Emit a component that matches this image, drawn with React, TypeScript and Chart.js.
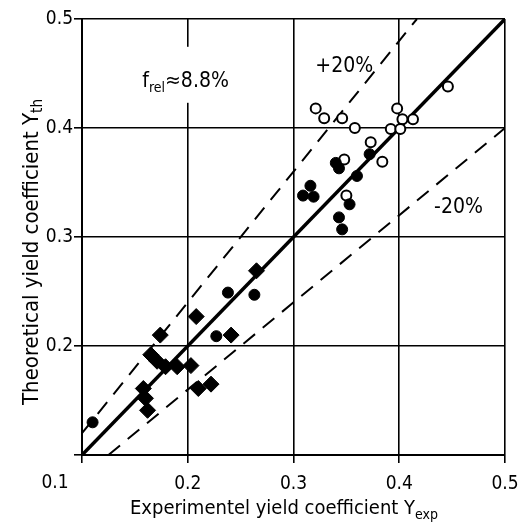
import React, { useEffect, useRef } from "react";
import { Chart, registerables } from "chart.js";

Chart.register(...registerables);

// Axis ticks
const axisTicks = [0.1, 0.2, 0.3, 0.4, 0.5];

// Filled diamonds
const diamondX = [0.265, 0.208, 0.174, 0.241, 0.165, 0.171, 0.179, 0.190, 0.203, 0.158, 0.160, 0.162, 0.210, 0.222];
const diamondY = [0.269, 0.227, 0.210, 0.210, 0.192, 0.186, 0.181, 0.181, 0.182, 0.161, 0.152, 0.141, 0.161, 0.165];

// Filled circles
const filledX = [0.110, 0.238, 0.263, 0.227, 0.372, 0.340, 0.343, 0.360, 0.316, 0.309, 0.319, 0.353, 0.343, 0.346];
const filledY = [0.130, 0.249, 0.247, 0.209, 0.376, 0.368, 0.363, 0.356, 0.347, 0.338, 0.337, 0.330, 0.318, 0.307];

// Open circles
const openX = [0.446, 0.321, 0.329, 0.346, 0.358, 0.373, 0.348, 0.384, 0.350, 0.398, 0.403, 0.413, 0.392, 0.401];
const openY = [0.438, 0.418, 0.409, 0.409, 0.400, 0.387, 0.371, 0.369, 0.338, 0.418, 0.408, 0.408, 0.399, 0.399];

// Reference lines (endpoints)
const idealX = [0.1, 0.5];
const idealY = [0.1, 0.5];
const plusX = [0.1, 0.4167];
const plusY = [0.12, 0.5];
const minusX = [0.125, 0.5];
const minusY = [0.1, 0.4];

const FONT = "'DejaVu Sans Condensed', 'Liberation Sans Narrow', 'DejaVu Sans', sans-serif";

const pts = (xs: number[], ys: number[]) => xs.map((x, i) => ({ x, y: ys[i] }));

const textPlugin = {
  id: "annotations",
  beforeDatasetsDraw(chart: any) {
    const { ctx, scales } = chart;
    const x = scales.x;
    const y = scales.y;
    // white box behind f_rel label (interrupts grid line)
    ctx.save();
    ctx.fillStyle = "#fff";
    const cx = x.getPixelForValue(0.2);
    ctx.fillRect(cx - 48, y.getPixelForValue(0.4745), 96, 56);
    ctx.restore();
  },
  afterDraw(chart: any) {
    const { ctx, scales, chartArea } = chart;
    const x = scales.x;
    const y = scales.y;
    ctx.save();
    ctx.fillStyle = "#000";
    ctx.textBaseline = "alphabetic";

    // f_rel label
    const big = `21px ${FONT}`;
    const small = `14px ${FONT}`;
    let px = x.getPixelForValue(0.157);
    const py = y.getPixelForValue(0.4375);
    ctx.font = big;
    ctx.textAlign = "left";
    ctx.fillText("f", px, py);
    px += ctx.measureText("f").width;
    ctx.font = small;
    ctx.fillText("rel", px, py + 5);
    px += ctx.measureText("rel").width;
    ctx.font = big;
    ctx.fillText("\u22488.8%", px, py);

    // +20% / -20%
    ctx.textAlign = "center";
    ctx.font = big;
    ctx.fillText("+20%", x.getPixelForValue(0.348), y.getPixelForValue(0.451));
    ctx.fillText("-20%", x.getPixelForValue(0.456), y.getPixelForValue(0.322));

    // 0.1 x tick label (shifted left of corner)
    ctx.font = `19px ${FONT}`;
    ctx.fillText("0.1", chartArea.left - 27, chartArea.bottom + 33);

    // X axis title
    const tMain = "Experimentel yield coefficient Y";
    const tSub = "exp";
    ctx.font = `20px ${FONT}`;
    const wMain = ctx.measureText(tMain).width;
    ctx.font = `14px ${FONT}`;
    const wSub = ctx.measureText(tSub).width;
    const xCenter = 284;
    let sx = xCenter - (wMain + wSub) / 2;
    ctx.textAlign = "left";
    ctx.font = `20px ${FONT}`;
    ctx.fillText(tMain, sx, 514);
    ctx.font = `14px ${FONT}`;
    ctx.fillText(tSub, sx + wMain, 519);

    // Y axis title (rotated)
    ctx.save();
    ctx.translate(38, 252);
    ctx.rotate(-Math.PI / 2);
    const yMain = "Theoretical yield coefficient Y";
    const ySub = "th";
    ctx.font = `22px ${FONT}`;
    const ywMain = ctx.measureText(yMain).width;
    ctx.font = `15px ${FONT}`;
    const ywSub = ctx.measureText(ySub).width;
    let ty = -(ywMain + ywSub) / 2;
    ctx.font = `22px ${FONT}`;
    ctx.fillText(yMain, ty, 0);
    ctx.font = `15px ${FONT}`;
    ctx.fillText(ySub, ty + ywMain, 4);
    ctx.restore();

    ctx.restore();
  },
};

export default function App() {
  const ref = useRef<HTMLCanvasElement | null>(null);
  useEffect(() => {
    if (!ref.current) return;
    const chart = new Chart(ref.current, {
      type: "scatter",
      data: {
        datasets: [
          {
            label: "diamonds",
            data: pts(diamondX, diamondY),
            pointStyle: "rectRot",
            pointRadius: 8,
            backgroundColor: "#000",
            borderColor: "#000",
            borderWidth: 1,
            order: 0,
          },
          {
            label: "filled",
            data: pts(filledX, filledY),
            pointStyle: "circle",
            pointRadius: 5.5,
            backgroundColor: "#000",
            borderColor: "#000",
            borderWidth: 1,
            order: 0,
          },
          {
            label: "open",
            data: pts(openX, openY),
            pointStyle: "circle",
            pointRadius: 5,
            backgroundColor: "#fff",
            borderColor: "#000",
            borderWidth: 2,
            order: 0,
          },
          {
            type: "line",
            label: "ideal",
            data: pts(idealX, idealY),
            borderColor: "#000",
            borderWidth: 3.5,
            pointRadius: 0,
            showLine: true,
            order: 1,
          },
          {
            type: "line",
            label: "+20%",
            data: pts(plusX, plusY),
            borderColor: "#000",
            borderWidth: 2,
            borderDash: [15, 10],
            pointRadius: 0,
            showLine: true,
            order: 1,
          },
          {
            type: "line",
            label: "-20%",
            data: pts(minusX, minusY),
            borderColor: "#000",
            borderWidth: 2,
            borderDash: [15, 10],
            pointRadius: 0,
            showLine: true,
            order: 1,
          },
        ] as any,
      },
      options: {
        animation: false,
        responsive: false,
        devicePixelRatio: 1,
        layout: { padding: { left: 0, right: 19, top: 19, bottom: 0 } },
        plugins: { legend: { display: false }, tooltip: { enabled: false } },
        scales: {
          x: {
            type: "linear",
            min: axisTicks[0],
            max: axisTicks[axisTicks.length - 1],
            afterBuildTicks: (s: any) => {
              s.ticks = axisTicks.map((v) => ({ value: v }));
            },
            ticks: {
              color: "#000",
              font: { family: FONT, size: 19 },
              padding: 10,
              maxRotation: 0,
              callback: (v: any) => (Math.abs(v - 0.1) < 1e-9 ? "" : Number(v).toFixed(1)),
            },
            grid: { color: "#000", lineWidth: 1.6, tickLength: 8 },
            border: { display: true, color: "#000", width: 2 },
            afterFit: (s: any) => {
              s.height = 69;
              s.paddingLeft = 0;
              s.paddingRight = 0;
            },
          },
          y: {
            type: "linear",
            min: axisTicks[0],
            max: axisTicks[axisTicks.length - 1],
            afterBuildTicks: (s: any) => {
              s.ticks = axisTicks.map((v) => ({ value: v }));
            },
            ticks: {
              color: "#000",
              font: { family: FONT, size: 19 },
              padding: 1,
              callback: (v: any) => (Math.abs(v - 0.1) < 1e-9 ? "" : Number(v).toFixed(1)),
            },
            grid: { color: "#000", lineWidth: 1.6, tickLength: 8 },
            border: { display: true, color: "#000", width: 2 },
            afterFit: (s: any) => {
              s.width = 82;
              s.paddingTop = 0;
              s.paddingBottom = 0;
            },
          },
        },
      } as any,
      plugins: [textPlugin],
    });
    return () => chart.destroy();
  }, []);
  return (
    <div style={{ position: "absolute", left: 0, top: 0, width: 524, height: 524, background: "#fff" }}>
      <canvas ref={ref} width={524} height={524} style={{ display: "block" }} />
    </div>
  );
}
